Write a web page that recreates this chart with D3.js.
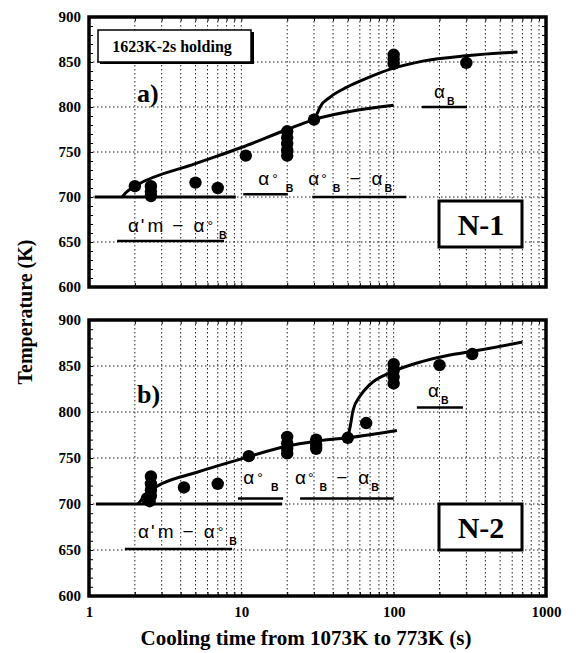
<!DOCTYPE html>
<html><head><meta charset="utf-8">
<script src="https://cdn.jsdelivr.net/npm/d3@7"></script>
<style>body{margin:0;background:#fff}svg{display:block}</style>
</head><body><svg id="c" width="576" height="653"></svg>
<script>
// ---------- data ----------
const xTickValues = [1, 10, 100, 1000];
const xTickLabels = ["1", "10", "100", "1000"];
const yTickValues = [600, 650, 700, 750, 800, 850, 900];
const yTickLabels = ["600", "650", "700", "750", "800", "850", "900"];
const xDomain = [1, 1000];
const yDomain = [600, 900];

// panel a) N-1
const dotsA = [[2, 712], [2.55, 712], [2.55, 706], [2.55, 701], [5, 716], [7, 710], [10.7, 746],
  [20, 773], [20, 766], [20, 759], [20, 752], [20, 746], [30, 786],
  [100, 858], [100, 853], [100, 848], [300, 849]];
const lowerCurveA = [[1.65, 700], [1.75, 705], [1.88, 709], [2.05, 713], [5, 737], [10, 755], [20, 775], [30, 786], [60, 797], [100, 802]];
const upperCurveA = [[30, 786], [31.5, 793], [32.9, 800], [38.3, 811], [49.3, 822], [66.8, 832], [95, 842], [155, 851], [300, 857], [650, 861]];
const baseLineA = [[1.09, 700], [9.2, 700]];
const underlinesA = [[[1.53, 651], [7.7, 651]], [[10.3, 703], [20.2, 703]], [[29.2, 700], [121, 700]], [[153, 800], [303, 800]]];
const labelsA = [["amB", 1.8, 661], ["aoB", 12.9, 713], ["aoB-aB", 27.5, 713], ["aB", 184, 810]];

// panel b) N-2
const dotsB = [[2.4, 706], [2.55, 730], [2.55, 722], [2.55, 715], [2.55, 709], [2.5, 703], [4.2, 718], [7, 722], [11.2, 752],
  [20, 773], [20, 766], [20, 760], [20, 755], [31, 770], [31, 764], [31, 760], [50, 772], [66, 788],
  [100, 852], [100, 845], [100, 838], [100, 831], [200, 851], [328, 863]];
const lowerCurveB = [[2.1, 700], [2.3, 708], [2.6, 716], [3, 722], [5, 734], [10, 749], [20, 763], [30, 768], [50, 772], [105, 780]];
const upperCurveB = [[50, 772], [51.8, 784], [54.2, 802], [60, 817], [70, 830], [99, 844], [155, 855], [234, 862], [330, 866], [700, 876]];
const baseLineB = [[1.11, 700], [18.5, 700]];
const underlinesB = [[[1.72, 651], [8.7, 651]], [[9.5, 706], [18.8, 706]], [[24.3, 706], [100, 706]], [[142, 805], [285, 805]]];
const labelsB = [["amB", 2.1, 663], ["aoB", 10.3, 722], ["aoB-aB", 22.5, 722], ["aB", 168, 816]];

const panelTexts = [["a)", "N-1"], ["b)", "N-2"]];
const holdingText = "1623K-2s holding";
const xTitle = "Cooling time from 1073K to 773K (s)";
const yTitle = "Temperature (K)";

// ---------- layout ----------
const svg = d3.select("#c");
const L = 89, R = 546;
const panels = [
  {top: 17, bottom: 287, dots: dotsA, curves: [lowerCurveA, upperCurveA], base: baseLineA, under: underlinesA, labels: labelsA, txt: panelTexts[0]},
  {top: 320, bottom: 596, dots: dotsB, curves: [lowerCurveB, upperCurveB], base: baseLineB, under: underlinesB, labels: labelsB, txt: panelTexts[1]}
];
const x = d3.scaleLog().domain(xDomain).range([L, R]);
const serif = "'Liberation Serif', 'Times New Roman', serif";
const sans = "'Liberation Sans', Arial, sans-serif";

const minorX = [];
for (let d = 1; d <= 100; d *= 10) for (let k = 2; k <= 10; k++) minorX.push(d * k);

// [text, kind, dx]
const labelParts = {
  "amB": [["α", "n"], ["'", "n", 2], ["m", "n", 3], ["−", "n", 9], ["α", "n", 10], ["°", "sup", 3], ["B", "sub", 6]],
  "aoB": [["α", "n"], ["°", "sup", 3], ["B", "sub", 8]],
  "aoB-aB": [["α", "n"], ["°", "sup", 2], ["B", "sub", 6], ["−", "n", 9], ["α", "n", 11], ["B", "sub", 2]],
  "aB": [["α", "n"], ["B", "sub", 2]]
};

function drawLabel(g, px, py, key) {
  const t = g.append("text").attr("x", px).attr("y", py)
    .attr("font-family", sans).attr("font-size", 19);
  let cur = 0;
  labelParts[key].forEach(([s, kind, dx]) => {
    const target = kind === "sup" ? -1 : kind === "sub" ? 7 : 0;
    const ts = t.append("tspan").text(s).attr("dy", target - cur);
    if (dx) ts.attr("dx", dx);
    ts.attr("font-size", kind === "n" ? 19 : kind === "sup" ? 14 : 10.5)
      .attr("font-weight", kind === "sub" ? "bold" : "normal");
    cur = target;
  });
}

panels.forEach((p, i) => {
  const y = d3.scaleLinear().domain(yDomain).range([p.bottom, p.top]);
  const g = svg.append("g");

  // grid
  g.append("g").selectAll("line").data(minorX.filter(v => v < 1000)).join("line")
    .attr("x1", d => x(d)).attr("x2", d => x(d)).attr("y1", p.top).attr("y2", p.bottom)
    .attr("stroke", "#222").attr("stroke-width", 1).attr("stroke-dasharray", "1.5,2.5");
  g.append("g").selectAll("line").data(yTickValues.slice(1, -1)).join("line")
    .attr("x1", L).attr("x2", R).attr("y1", d => y(d)).attr("y2", d => y(d))
    .attr("stroke", "#222").attr("stroke-width", 1).attr("stroke-dasharray", "1.5,2.5");

  // inward minor ticks
  const yMinor = d3.range(610, 900, 10);
  g.append("g").call(d3.axisRight(y).tickValues(yMinor).tickSize(4).tickFormat(""))
    .attr("transform", `translate(${L},0)`).call(a => a.select(".domain").remove());
  g.append("g").call(d3.axisLeft(y).tickValues(yMinor).tickSize(4).tickFormat(""))
    .attr("transform", `translate(${R},0)`).call(a => a.select(".domain").remove());
  g.append("g").call(d3.axisTop(x).tickValues(minorX).tickSize(4).tickFormat(""))
    .attr("transform", `translate(0,${p.bottom})`).call(a => a.select(".domain").remove());
  g.append("g").call(d3.axisBottom(x).tickValues(minorX).tickSize(4).tickFormat(""))
    .attr("transform", `translate(0,${p.top})`).call(a => a.select(".domain").remove());

  // y tick labels
  const ya = g.append("g").attr("transform", `translate(${L},0)`)
    .call(d3.axisLeft(y).tickValues(yTickValues).tickSize(0).tickPadding(8).tickFormat((d, k) => yTickLabels[k]));
  ya.select(".domain").remove();
  ya.selectAll("text").attr("font-family", serif).attr("font-weight", "bold").attr("font-size", 15).attr("fill", "#000");

  // frame
  g.append("rect").attr("x", L).attr("y", p.top).attr("width", R - L).attr("height", p.bottom - p.top)
    .attr("fill", "none").attr("stroke", "#000").attr("stroke-width", 3.5);

  // base line at 700 and phase underlines
  const ln = d3.line().x(d => x(d[0])).y(d => y(d[1]));
  g.append("path").attr("d", ln(p.base)).attr("stroke", "#000").attr("stroke-width", 2.8).attr("fill", "none");
  p.under.forEach(u => g.append("path").attr("d", ln(u)).attr("stroke", "#000").attr("stroke-width", 2.5).attr("fill", "none"));

  // curves
  const cl = d3.line().x(d => x(d[0])).y(d => y(d[1])).curve(d3.curveMonotoneX);
  p.curves.forEach(c => g.append("path").attr("d", cl(c)).attr("stroke", "#000").attr("stroke-width", 3).attr("fill", "none"));

  // dots
  g.append("g").selectAll("circle").data(p.dots).join("circle")
    .attr("cx", d => x(d[0])).attr("cy", d => y(d[1])).attr("r", 6.2).attr("fill", "#000");

  // phase labels
  p.labels.forEach(([k, t, T]) => drawLabel(g, x(t), y(T), k));

  // panel letter
  g.append("text").attr("x", L + 48).attr("y", p.top + (i === 0 ? 85 : 83)).text(p.txt[0])
    .attr("font-family", serif).attr("font-weight", "bold").attr("font-size", 26);

  // N box
  const by = i === 0 ? 201 : 504;
  g.append("rect").attr("x", 439).attr("y", by).attr("width", 83).attr("height", 46)
    .attr("fill", "#fff").attr("stroke", "#000").attr("stroke-width", 3);
  g.append("text").attr("x", 481).attr("y", by + 34).attr("text-anchor", "middle").text(p.txt[1])
    .attr("font-family", serif).attr("font-weight", "bold").attr("font-size", 30);
});

// holding box (panel a)
svg.append("rect").attr("x", 100).attr("y", 32).attr("width", 154).attr("height", 32).attr("fill", "#000");
svg.append("rect").attr("x", 98).attr("y", 30).attr("width", 153).attr("height", 32)
  .attr("fill", "#fff").attr("stroke", "#000").attr("stroke-width", 1.5);
svg.append("text").attr("x", 172).attr("y", 52).attr("text-anchor", "middle").text(holdingText)
  .attr("font-family", serif).attr("font-weight", "bold").attr("font-size", 16);

// x tick labels
const xa = svg.append("g").attr("transform", `translate(0,596)`)
  .call(d3.axisBottom(x).tickValues(xTickValues).tickSize(0).tickPadding(10).tickFormat((d, k) => xTickLabels[k]));
xa.select(".domain").remove();
xa.selectAll("text").attr("font-family", serif).attr("font-weight", "bold").attr("font-size", 15).attr("fill", "#000");

// titles
svg.append("text").attr("x", 306).attr("y", 645).attr("text-anchor", "middle").text(xTitle)
  .attr("font-family", serif).attr("font-weight", "bold").attr("font-size", 21);
svg.append("text").attr("transform", "translate(32,312) rotate(-90)").attr("text-anchor", "middle").text(yTitle)
  .attr("font-family", serif).attr("font-weight", "bold").attr("font-size", 20);
</script>
</body></html>
